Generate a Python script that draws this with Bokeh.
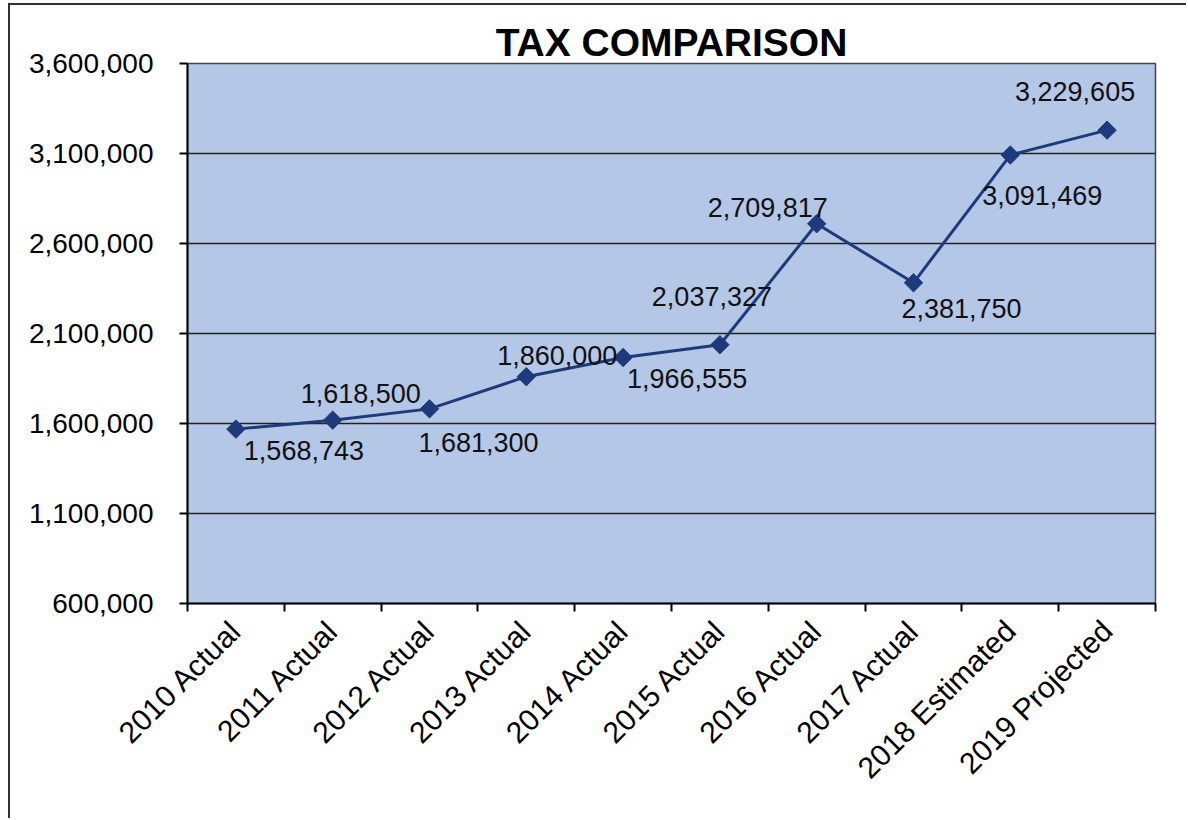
from math import pi
from bokeh.plotting import figure
from bokeh.models import Range1d, FixedTicker, NumeralTickFormatter, ColumnDataSource
from bokeh.embed import file_html
from bokeh.resources import INLINE
from bokeh.core.properties import value

categories = ["2010 Actual", "2011 Actual", "2012 Actual", "2013 Actual", "2014 Actual",
              "2015 Actual", "2016 Actual", "2017 Actual", "2018 Estimated", "2019 Projected"]
tax = [1568743, 1618500, 1681300, 1860000, 1966555, 2037327, 2709817, 2381750, 3091469, 3229605]
y_ticks = [600000, 1100000, 1600000, 2100000, 2600000, 3100000, 3600000]

# label placement offsets (screen px) relative to each point
label_dx = [68, 28, 49, 31, 64, -8, -49, 48, 32, -32]
label_dy = [21, -27, 34, -21, 21, -48, -16, 26, 40, -39]

x = [i + 0.5 for i in range(len(categories))]
src = ColumnDataSource(dict(
    x=x, y=tax, label=[f"{v:,}" for v in tax], dx=label_dx, dy=label_dy))

FONT = "Liberation Sans"
NAVY = "#1F3A7A"

p = figure(width=1178, height=815,
           x_range=Range1d(0, len(categories)), y_range=Range1d(y_ticks[0], y_ticks[-1]),
           output_backend="svg", toolbar_location=None,
           min_border_left=177, min_border_right=33, min_border_top=58, min_border_bottom=217)
p.margin = (3, 0, 0, 8)
p.styles = {"border-left": "2px solid #303030", "border-top": "2px solid #303030",
            "border-right": "none", "border-bottom": "none"}

p.background_fill_color = "#B4C7E7"
p.border_fill_color = "white"
p.outline_line_color = "#444444"
p.outline_line_width = 1.5

p.title.text = "TAX COMPARISON"
p.title.align = "center"
p.title.text_font = FONT
p.title.text_font_size = "39px"
p.title.text_font_style = "bold"
p.title.text_color = "black"
p.title.standoff = 0

p.xgrid.grid_line_color = None
p.ygrid.ticker = FixedTicker(ticks=y_ticks)
p.ygrid.grid_line_color = "#222222"
p.ygrid.grid_line_width = 1.5

p.yaxis.ticker = FixedTicker(ticks=y_ticks)
p.yaxis.formatter = NumeralTickFormatter(format="0,0")
p.yaxis.major_tick_out = 8
p.yaxis.major_tick_in = 0
p.yaxis.minor_tick_line_color = None
p.yaxis.major_label_standoff = 26
p.yaxis.major_label_text_font = FONT
p.yaxis.major_label_text_font_size = "28px"
p.yaxis.major_label_text_color = "black"

p.xaxis.ticker = FixedTicker(ticks=x, minor_ticks=list(range(len(categories) + 1)))
p.xaxis.major_label_overrides = {xi: c for xi, c in zip(x, categories)}
p.xaxis.major_tick_out = 0
p.xaxis.major_tick_in = 0
p.xaxis.minor_tick_out = 8
p.xaxis.minor_tick_in = 0
p.xaxis.minor_tick_line_color = "black"
p.xaxis.minor_tick_line_width = 2
p.xaxis.major_label_orientation = pi / 4
p.xaxis.major_label_standoff = 14
p.xaxis.major_label_text_font = FONT
p.xaxis.major_label_text_font_size = "30px"
p.xaxis.major_label_text_color = "black"

p.axis.axis_line_color = "black"
p.axis.axis_line_width = 2
p.axis.major_tick_line_color = "black"
p.axis.major_tick_line_width = 2

p.line("x", "y", source=src, line_color=NAVY, line_width=3)
p.scatter("x", "y", source=src, marker="square", angle=pi / 4, size=13,
          fill_color=NAVY, line_color=NAVY)
p.text("x", "y", text="label", x_offset="dx", y_offset="dy", source=src,
       text_align="center", text_baseline="middle",
       text_font=value(FONT), text_font_size="27px", text_color="#111111")

open("out.html", "w").write(file_html(p, INLINE))
